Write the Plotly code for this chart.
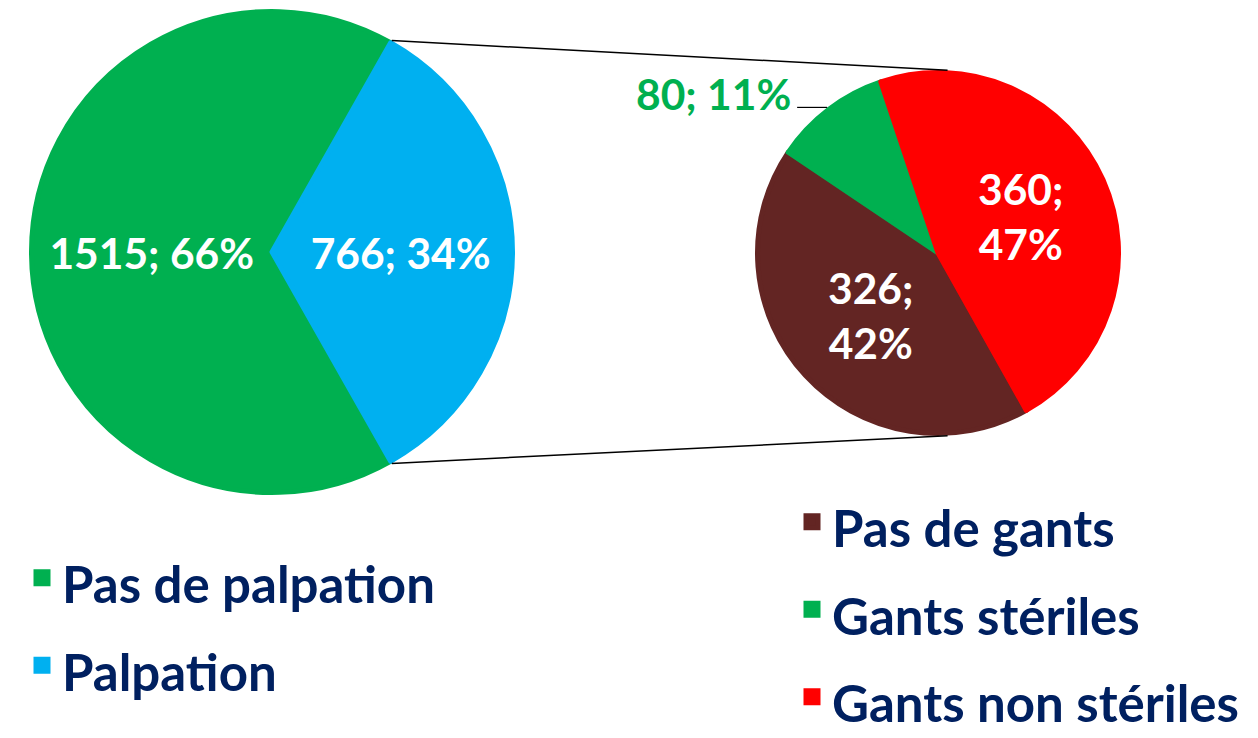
import math
import plotly.graph_objects as go

# ---------------- data ----------------
palp_labels = ["Pas de palpation", "Palpation"]
palp_values = [1515, 766]
palp_pcts = [66, 34]

gants_labels = ["Pas de gants", "Gants stériles", "Gants non stériles"]
gants_values = [326, 80, 360]
gants_pcts = [42, 11, 47]

# ---------------- style ----------------
palp_colors = ["#00B050", "#00B0F0"]
gants_colors = ["#632523", "#00B050", "#FF0000"]
NAVY = "#002060"
FONT = "Lato"
LBL_SIZE = 42.5
LEG_TXT = 51
LEG_LINE = 65
EDGE = 5  # same-colour slice outline (also enlarges the legend squares)

W, H = 1258, 738
# pie geometry (pixels)
c1x, c1y, r1 = 272, 252, 243
c2x, c2y, r2 = 938, 253, 183

def px2paper(x, y):
    return x / W, 1 - y / H

def dom(cx, cy, r):
    r = r - EDGE / 2
    return dict(x=[(cx - r) / W, (cx + r) / W], y=[1 - (cy + r) / H, 1 - (cy - r) / H])

# left pie: the "Palpation" slice is centred at 3 o'clock
tot1 = sum(palp_values)
blue_ang = 360 * palp_values[1] / tot1
rot1 = 90 + blue_ang / 2
rot2 = 150.7

def leg_label(s):
    return f"<span style='font-size:{LEG_TXT}px'>{s}</span>"

fig = go.Figure()
fig.add_trace(go.Pie(
    labels=[leg_label(l) for l in palp_labels],
    values=palp_values,
    text=[f"{p}%" for p in palp_pcts],
    texttemplate="%{value}; %{text}",
    textposition="inside",
    insidetextorientation="horizontal",
    textfont=dict(family=FONT, size=LBL_SIZE, color="white", weight="bold"),
    marker=dict(colors=palp_colors, line=dict(width=EDGE, color=palp_colors)),
    sort=False, direction="clockwise", rotation=rot1,
    domain=dom(c1x, c1y, r1),
    legend="legend",
    hoverinfo="label+value+percent",
))
fig.add_trace(go.Pie(
    labels=[leg_label(l) for l in gants_labels],
    values=gants_values,
    text=[f"{p}%" for p in gants_pcts],
    texttemplate="%{value};<br>%{text}",
    textposition=["inside", "none", "inside"],
    insidetextorientation="horizontal",
    textfont=dict(family=FONT, size=LBL_SIZE, color="white", weight="bold"),
    marker=dict(colors=gants_colors, line=dict(width=EDGE, color=gants_colors)),
    sort=False, direction="clockwise", rotation=rot2,
    domain=dom(c2x, c2y, r2),
    legend="legend2",
    hoverinfo="label+value+percent",
))

shapes = []
# connector lines between the "Palpation" slice edges and the second pie
edge_top = math.radians(90 - blue_ang / 2)
edge_bot = math.radians(90 + blue_ang / 2)
p_top = (c1x + r1 * math.sin(edge_top), c1y - r1 * math.cos(edge_top))
p_bot = (c1x + r1 * math.sin(edge_bot), c1y - r1 * math.cos(edge_bot))
q_top = (c2x + r2 * math.sin(math.radians(3)), c2y - r2 * math.cos(math.radians(3)))
q_bot = (c2x + r2 * math.sin(math.radians(177)), c2y - r2 * math.cos(math.radians(177)))
for p, q in [(p_top, q_top), (p_bot, q_bot)]:
    x0, y0 = px2paper(*p)
    x1, y1 = px2paper(*q)
    shapes.append(dict(type="line", xref="paper", yref="paper", x0=x0, y0=y0, x1=x1, y1=y1,
                       line=dict(color="black", width=1.5)))

# leader line + outside label for the small "Gants stériles" slice
tot2 = sum(gants_values)
start_g = rot2 + 360 * gants_values[0] / tot2
mid_g = math.radians(start_g + 180 * gants_values[1] / tot2)
mx, my = c2x + r2 * math.sin(mid_g), c2y - r2 * math.cos(mid_g)
lx0, ly0 = px2paper(mx - 30, my)
lx1, ly1 = px2paper(mx, my)
shapes.append(dict(type="line", xref="paper", yref="paper", x0=lx0, y0=ly0, x1=lx1, y1=ly1,
                   line=dict(color="black", width=1.2)))
ax_, ay_ = px2paper(mx - 34, my - 14)

fig.update_layout(
    width=W, height=H,
    margin=dict(l=0, r=0, t=0, b=0, autoexpand=False),
    paper_bgcolor="white", plot_bgcolor="white",
    shapes=shapes,
    annotations=[dict(
        x=ax_, y=ay_, xref="paper", yref="paper", xanchor="right", yanchor="middle",
        text=f"{gants_values[1]}; {gants_pcts[1]}%", showarrow=False,
        font=dict(family=FONT, size=LBL_SIZE, color=palp_colors[0], weight="bold"),
    )],
    legend=dict(
        x=22 / W, y=1 - 529 / H, xanchor="left", yanchor="top",
        font=dict(family=FONT, size=LEG_LINE, color=NAVY, weight="bold"),
        bgcolor="rgba(0,0,0,0)",
    ),
    legend2=dict(
        x=792 / W, y=1 - 473 / H, xanchor="left", yanchor="top",
        font=dict(family=FONT, size=LEG_LINE, color=NAVY, weight="bold"),
        bgcolor="rgba(0,0,0,0)",
    ),
)

fig.write_html("out.html", config={"displayModeBar": False},
               post_script="document.body.style.margin='0';")
